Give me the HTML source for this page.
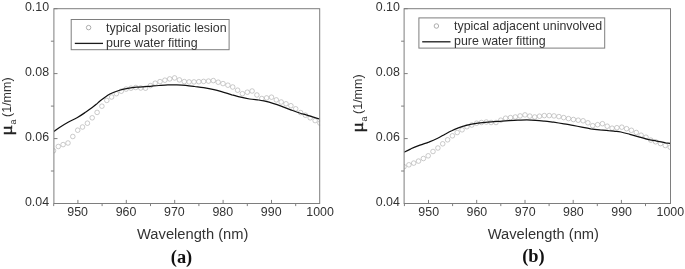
<!DOCTYPE html>
<html lang="en"><head><meta charset="utf-8"><title>Absorption coefficient fitting</title>
<style>
html,body{margin:0;padding:0;background:#fff}
svg{display:block}
text{font-family:"Liberation Sans",Arial,Helvetica,sans-serif;fill:#333}
.tk{font-size:12.4px}
.xt{font-size:14.7px}
.yt{font-size:12.5px}
.mu{font-family:"Liberation Serif","Times New Roman",serif;font-size:17.2px;fill:#222;stroke:#222;stroke-width:0.4px}
.sub{font-size:9px}
.pl{font-family:"Liberation Serif","Times New Roman",Times,serif;font-weight:bold;font-size:18.4px;fill:#111}
</style></head><body>
<svg width="685" height="269" viewBox="0 0 685 269">
<rect width="685" height="269" fill="#fff"/>
<clipPath id="clip1"><rect x="53.9" y="8.7" width="266.2" height="194.8"/></clipPath>
<g clip-path="url(#clip1)" fill="none" stroke="#a8a8a8" stroke-width="0.6">
<circle cx="53.5" cy="150.8" r="2.3"/>
<circle cx="58.3" cy="146.5" r="2.3"/>
<circle cx="63.1" cy="144.6" r="2.3"/>
<circle cx="68.0" cy="143.0" r="2.3"/>
<circle cx="72.8" cy="136.5" r="2.3"/>
<circle cx="77.7" cy="130.2" r="2.3"/>
<circle cx="82.5" cy="127.0" r="2.3"/>
<circle cx="87.4" cy="123.2" r="2.3"/>
<circle cx="92.2" cy="117.8" r="2.3"/>
<circle cx="97.1" cy="112.4" r="2.3"/>
<circle cx="101.9" cy="106.2" r="2.3"/>
<circle cx="106.8" cy="100.4" r="2.3"/>
<circle cx="111.6" cy="97.0" r="2.3"/>
<circle cx="116.4" cy="93.7" r="2.3"/>
<circle cx="121.3" cy="91.2" r="2.3"/>
<circle cx="126.1" cy="89.1" r="2.3"/>
<circle cx="131.0" cy="88.2" r="2.3"/>
<circle cx="135.8" cy="87.5" r="2.3"/>
<circle cx="140.7" cy="88.0" r="2.3"/>
<circle cx="145.5" cy="88.2" r="2.3"/>
<circle cx="150.4" cy="85.6" r="2.3"/>
<circle cx="155.2" cy="83.2" r="2.3"/>
<circle cx="160.0" cy="81.6" r="2.3"/>
<circle cx="164.9" cy="80.2" r="2.3"/>
<circle cx="169.7" cy="78.9" r="2.3"/>
<circle cx="174.6" cy="77.9" r="2.3"/>
<circle cx="179.4" cy="79.9" r="2.3"/>
<circle cx="184.3" cy="81.6" r="2.3"/>
<circle cx="189.1" cy="81.9" r="2.3"/>
<circle cx="194.0" cy="81.9" r="2.3"/>
<circle cx="198.8" cy="81.7" r="2.3"/>
<circle cx="203.6" cy="81.4" r="2.3"/>
<circle cx="208.5" cy="81.1" r="2.3"/>
<circle cx="213.3" cy="80.6" r="2.3"/>
<circle cx="218.2" cy="82.2" r="2.3"/>
<circle cx="223.0" cy="83.6" r="2.3"/>
<circle cx="227.9" cy="85.2" r="2.3"/>
<circle cx="232.7" cy="87.0" r="2.3"/>
<circle cx="237.6" cy="90.2" r="2.3"/>
<circle cx="242.4" cy="93.7" r="2.3"/>
<circle cx="247.3" cy="92.2" r="2.3"/>
<circle cx="252.1" cy="91.0" r="2.3"/>
<circle cx="256.9" cy="95.0" r="2.3"/>
<circle cx="261.8" cy="98.5" r="2.3"/>
<circle cx="266.6" cy="97.9" r="2.3"/>
<circle cx="271.5" cy="97.2" r="2.3"/>
<circle cx="276.3" cy="99.9" r="2.3"/>
<circle cx="281.2" cy="102.0" r="2.3"/>
<circle cx="286.0" cy="103.8" r="2.3"/>
<circle cx="290.9" cy="105.7" r="2.3"/>
<circle cx="295.7" cy="108.8" r="2.3"/>
<circle cx="300.6" cy="112.6" r="2.3"/>
<circle cx="305.4" cy="115.2" r="2.3"/>
<circle cx="310.2" cy="117.8" r="2.3"/>
<circle cx="315.1" cy="120.6" r="2.3"/>
<circle cx="319.9" cy="123.1" r="2.3"/>
</g>
<path clip-path="url(#clip1)" d="M53.9 131.5C54.8 130.9 56.7 129.2 59.1 127.7C61.5 126.2 65.1 124.0 68.1 122.3C71.1 120.6 74.0 119.5 77.0 117.8C80.0 116.1 83.4 113.7 85.9 112.0C88.4 110.3 90.4 108.9 92.2 107.6C94.0 106.3 95.1 105.2 96.6 104.0C98.0 102.8 98.7 102.0 100.9 100.3C103.1 98.6 106.9 95.7 109.9 94.0C112.9 92.4 115.8 91.4 118.8 90.5C121.8 89.6 124.7 89.0 127.7 88.4C130.7 87.9 133.6 87.5 136.6 87.2C139.6 86.9 143.0 86.8 145.6 86.6C148.2 86.4 149.8 86.3 152.0 86.1C154.2 85.9 156.2 85.7 158.9 85.5C161.6 85.3 164.9 85.0 167.9 84.9C170.9 84.8 173.8 84.8 176.8 84.9C179.8 85.0 182.7 85.1 185.7 85.4C188.7 85.7 191.6 86.1 194.6 86.5C197.6 86.9 200.4 87.2 203.6 87.7C206.8 88.2 210.7 88.9 213.9 89.6C217.1 90.3 219.9 91.2 222.9 92.1C225.9 93.0 228.8 93.9 231.8 94.8C234.8 95.6 237.7 96.5 240.7 97.2C243.7 97.9 246.6 98.5 249.6 99.0C252.6 99.5 256.2 99.7 258.6 100.0C261.0 100.3 261.5 100.4 263.9 100.9C266.3 101.5 269.9 102.4 272.9 103.3C275.9 104.2 278.8 105.2 281.8 106.3C284.8 107.4 287.7 108.7 290.7 109.8C293.7 110.9 296.6 112.0 299.6 113.0C302.6 114.0 305.3 114.6 308.6 115.6C311.9 116.6 317.8 118.4 319.6 119.0" fill="none" stroke="#111" stroke-width="1.25" stroke-linejoin="round"/>
<rect x="53.9" y="8.7" width="265.8" height="194.8" fill="none" stroke="#7e7e7e" stroke-width="1"/>
<path d="M53.9 8.7h3.6M53.9 73.6h3.6M53.9 138.6h3.6M53.9 203.5h3.6M53.9 41.2h-3M53.9 106.1h-3M53.9 171.0h-3M77.9 203.5v-3.6M126.3 203.5v-3.6M174.7 203.5v-3.6M223.1 203.5v-3.6M271.5 203.5v-3.6M53.7 203.5v2.6M102.1 203.5v2.6M150.5 203.5v2.6M198.9 203.5v2.6M247.3 203.5v2.6M295.7 203.5v2.6" fill="none" stroke="#7e7e7e" stroke-width="1"/>
<g class="tk" text-anchor="end">
<text x="49.1" y="11.1">0.10</text>
<text x="49.1" y="76.0">0.08</text>
<text x="49.1" y="141.0">0.06</text>
<text x="49.1" y="205.9">0.04</text>
</g><g class="tk" text-anchor="middle">
<text x="77.6" y="216.3">950</text>
<text x="126.0" y="216.3">960</text>
<text x="174.4" y="216.3">970</text>
<text x="222.8" y="216.3">980</text>
<text x="271.2" y="216.3">990</text>
<text x="320.1" y="216.3">1000</text>
</g>
<text class="xt" text-anchor="middle" x="192.7" y="239.3">Wavelength (nm)</text>
<text class="pl" text-anchor="middle" x="181.5" y="263.1">(a)</text>
<g transform="translate(11.95,134.9) rotate(-90)"><text class="mu" transform="translate(-0.8,-0.1) scale(1.17,1)" x="0" y="0">μ</text><text class="sub" x="10.3" y="4.1">a</text><text class="yt" x="17.95" y="-1.1">(1/mm)</text></g>
<rect x="71.2" y="19.5" width="157.9" height="30.2" fill="#fff" stroke="#7e7e7e" stroke-width="1"/>
<circle cx="88.6" cy="27.6" r="2.25" fill="none" stroke="#8c8c8c" stroke-width="0.7"/>
<path d="M74.8 43.4H103.0" stroke="#1a1a1a" stroke-width="1.3"/>
<text class="tk" x="106.0" y="31.6">typical psoriatic lesion</text>
<text class="tk" x="106.0" y="47.3">pure water fitting</text>
<clipPath id="clip2"><rect x="404.1" y="8.7" width="266.9" height="194.8"/></clipPath>
<g clip-path="url(#clip2)" fill="none" stroke="#a8a8a8" stroke-width="0.6">
<circle cx="404.0" cy="166.7" r="2.3"/>
<circle cx="408.9" cy="164.8" r="2.3"/>
<circle cx="413.7" cy="163.1" r="2.3"/>
<circle cx="418.5" cy="161.1" r="2.3"/>
<circle cx="423.4" cy="158.5" r="2.3"/>
<circle cx="428.2" cy="155.8" r="2.3"/>
<circle cx="433.0" cy="151.5" r="2.3"/>
<circle cx="437.9" cy="148.0" r="2.3"/>
<circle cx="442.7" cy="143.8" r="2.3"/>
<circle cx="447.6" cy="139.8" r="2.3"/>
<circle cx="452.4" cy="135.8" r="2.3"/>
<circle cx="457.2" cy="132.5" r="2.3"/>
<circle cx="462.1" cy="129.8" r="2.3"/>
<circle cx="466.9" cy="126.7" r="2.3"/>
<circle cx="471.8" cy="125.0" r="2.3"/>
<circle cx="476.6" cy="123.2" r="2.3"/>
<circle cx="481.4" cy="122.5" r="2.3"/>
<circle cx="486.3" cy="122.0" r="2.3"/>
<circle cx="491.1" cy="122.5" r="2.3"/>
<circle cx="496.0" cy="122.5" r="2.3"/>
<circle cx="500.8" cy="120.2" r="2.3"/>
<circle cx="505.6" cy="118.2" r="2.3"/>
<circle cx="510.5" cy="117.6" r="2.3"/>
<circle cx="515.3" cy="117.0" r="2.3"/>
<circle cx="520.1" cy="115.9" r="2.3"/>
<circle cx="525.0" cy="114.9" r="2.3"/>
<circle cx="529.8" cy="116.1" r="2.3"/>
<circle cx="534.7" cy="117.0" r="2.3"/>
<circle cx="539.5" cy="116.2" r="2.3"/>
<circle cx="544.3" cy="115.6" r="2.3"/>
<circle cx="549.2" cy="115.6" r="2.3"/>
<circle cx="554.0" cy="115.9" r="2.3"/>
<circle cx="558.9" cy="116.6" r="2.3"/>
<circle cx="563.7" cy="117.6" r="2.3"/>
<circle cx="568.5" cy="118.6" r="2.3"/>
<circle cx="573.4" cy="119.5" r="2.3"/>
<circle cx="578.2" cy="120.2" r="2.3"/>
<circle cx="583.1" cy="120.8" r="2.3"/>
<circle cx="587.9" cy="122.8" r="2.3"/>
<circle cx="592.7" cy="125.7" r="2.3"/>
<circle cx="597.6" cy="124.7" r="2.3"/>
<circle cx="602.4" cy="123.7" r="2.3"/>
<circle cx="607.2" cy="126.2" r="2.3"/>
<circle cx="612.1" cy="128.2" r="2.3"/>
<circle cx="616.9" cy="127.7" r="2.3"/>
<circle cx="621.8" cy="127.2" r="2.3"/>
<circle cx="626.6" cy="128.7" r="2.3"/>
<circle cx="631.4" cy="130.3" r="2.3"/>
<circle cx="636.3" cy="132.5" r="2.3"/>
<circle cx="641.1" cy="135.2" r="2.3"/>
<circle cx="646.0" cy="137.2" r="2.3"/>
<circle cx="650.8" cy="140.1" r="2.3"/>
<circle cx="655.6" cy="141.8" r="2.3"/>
<circle cx="660.5" cy="143.6" r="2.3"/>
<circle cx="665.3" cy="145.5" r="2.3"/>
<circle cx="670.2" cy="147.2" r="2.3"/>
</g>
<path clip-path="url(#clip2)" d="M404.2 152.3C405.3 151.7 408.3 149.9 410.9 148.8C413.5 147.6 416.9 146.3 419.9 145.2C422.9 144.1 425.8 143.2 428.8 142.1C431.8 140.9 435.0 139.5 437.7 138.2C440.4 136.9 442.7 135.4 445.0 134.2C447.3 133.0 449.5 131.8 451.7 130.8C453.9 129.7 455.8 128.8 458.4 127.9C461.0 127.0 464.3 126.0 467.3 125.2C470.3 124.5 473.3 123.9 476.2 123.4C479.2 122.9 482.2 122.6 485.2 122.3C488.2 122.0 491.6 121.8 494.1 121.6C496.6 121.4 497.5 121.4 500.0 121.3C502.5 121.2 505.9 120.9 508.9 120.7C511.9 120.5 514.9 120.3 517.9 120.2C520.9 120.1 523.8 119.9 526.8 119.9C529.8 119.9 532.7 120.1 535.7 120.3C538.7 120.5 541.6 120.8 544.6 121.1C547.6 121.4 550.4 121.8 553.6 122.2C556.8 122.7 560.7 123.3 563.9 123.8C567.1 124.3 569.9 124.9 572.9 125.4C575.9 126.0 578.8 126.5 581.8 127.1C584.8 127.7 587.7 128.3 590.7 128.8C593.7 129.2 596.6 129.5 599.6 129.8C602.6 130.1 606.0 130.4 608.6 130.7C611.2 130.9 613.0 131.1 615.0 131.3C617.0 131.5 618.4 131.5 620.9 132.0C623.4 132.5 626.9 133.5 629.9 134.3C632.9 135.1 635.8 136.1 638.8 136.9C641.8 137.8 644.7 138.7 647.7 139.4C650.7 140.1 653.6 140.5 656.6 141.1C659.6 141.7 663.3 142.3 665.6 142.8C667.9 143.2 669.7 143.4 670.5 143.5" fill="none" stroke="#111" stroke-width="1.25" stroke-linejoin="round"/>
<rect x="404.1" y="8.7" width="266.4" height="194.8" fill="none" stroke="#7e7e7e" stroke-width="1"/>
<path d="M404.1 8.7h3.6M404.1 73.6h3.6M404.1 138.6h3.6M404.1 203.5h3.6M404.1 41.2h-3M404.1 106.1h-3M404.1 171.0h-3M428.5 203.5v-3.6M476.7 203.5v-3.6M525.0 203.5v-3.6M573.2 203.5v-3.6M621.4 203.5v-3.6M404.4 203.5v2.6M452.6 203.5v2.6M500.8 203.5v2.6M549.1 203.5v2.6M597.3 203.5v2.6M645.5 203.5v2.6" fill="none" stroke="#7e7e7e" stroke-width="1"/>
<g class="tk" text-anchor="end">
<text x="399.9" y="11.1">0.10</text>
<text x="399.9" y="76.0">0.08</text>
<text x="399.9" y="141.0">0.06</text>
<text x="399.9" y="205.9">0.04</text>
</g><g class="tk" text-anchor="middle">
<text x="428.7" y="216.3">950</text>
<text x="476.9" y="216.3">960</text>
<text x="525.2" y="216.3">970</text>
<text x="573.4" y="216.3">980</text>
<text x="621.6" y="216.3">990</text>
<text x="670.3" y="216.3">1000</text>
</g>
<text class="xt" text-anchor="middle" x="543.3" y="239.3">Wavelength (nm)</text>
<text class="pl" text-anchor="middle" x="533.4" y="262.1">(b)</text>
<g transform="translate(362.65,131.9) rotate(-90)"><text class="mu" transform="translate(-0.8,-0.1) scale(1.17,1)" x="0" y="0">μ</text><text class="sub" x="10.3" y="4.1">a</text><text class="yt" x="17.95" y="-1.1">(1/mm)</text></g>
<rect x="418.9" y="17.9" width="185.8" height="30.2" fill="#fff" stroke="#7e7e7e" stroke-width="1"/>
<circle cx="436.4" cy="26.0" r="2.25" fill="none" stroke="#8c8c8c" stroke-width="0.7"/>
<path d="M422.2 41.8H450.5" stroke="#1a1a1a" stroke-width="1.3"/>
<text class="tk" x="454.0" y="29.8">typical adjacent uninvolved</text>
<text class="tk" x="454.0" y="45.3">pure water fitting</text>
</svg></body></html>
